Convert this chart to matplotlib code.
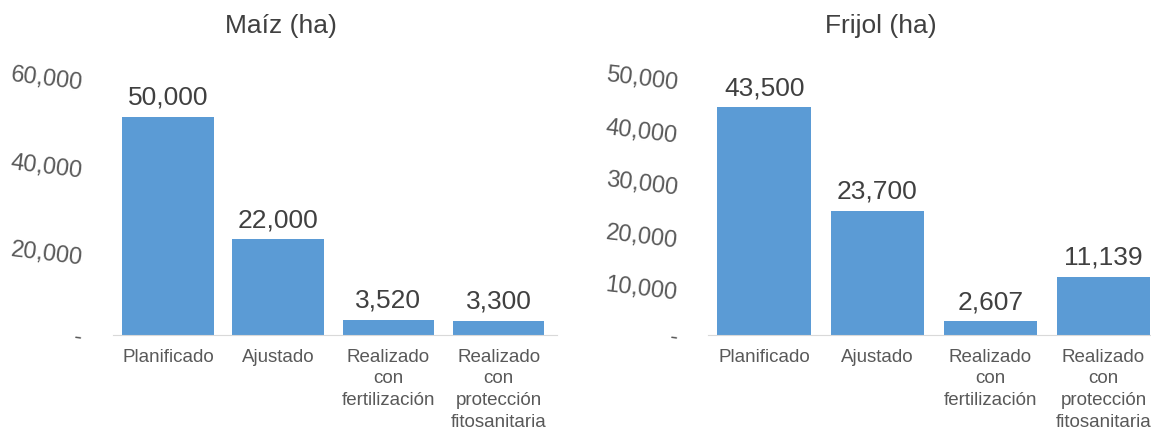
import matplotlib.pyplot as plt
from matplotlib.ticker import FuncFormatter

categories = ["Planificado", "Ajustado", "Realizado\ncon\nfertilización",
              "Realizado\ncon\nprotección\nfitosanitaria"]
maiz = [50000, 22000, 3520, 3300]
frijol = [43500, 23700, 2607, 11139]
maiz_ticks = [0, 20000, 40000, 60000]
frijol_ticks = [0, 10000, 20000, 30000, 40000, 50000]

plt.rcParams['font.family'] = ['Liberation Sans', 'DejaVu Sans']

BLUE = "#5B9BD5"
TXT = "#404040"
TICK = "#595959"


def fmt(v, pos):
    return "-" if v == 0 else f"{v:,.0f}"


fig = plt.figure(figsize=(11.51, 4.3), dpi=100)
ax1 = fig.add_axes([0.098, 0.221, 0.386, 0.609])
ax2 = fig.add_axes([0.615, 0.221, 0.385, 0.609])

panels = [(ax1, maiz, maiz_ticks, (-0.5, 3.53)), (ax2, frijol, frijol_ticks, (-0.5, 3.42))]
for ax, vals, ticks, xl in panels:
    x = range(len(categories))
    bars = ax.bar(x, vals, width=0.83, color=BLUE)
    for b, v in zip(bars, vals):
        ax.annotate(f"{v:,}", (b.get_x() + b.get_width() / 2, v),
                    xytext=(0, 5), textcoords="offset points",
                    ha="center", va="bottom", fontsize=19, color=TXT)
    ax.set_ylim(0, ticks[-1])
    ax.set_xlim(*xl)
    ax.set_yticks(ticks)
    ax.yaxis.set_major_formatter(FuncFormatter(fmt))
    ax.set_xticks(list(x))
    ax.set_xticklabels(categories, fontsize=13.5, color=TICK, linespacing=1.35)
    for lab in ax.get_yticklabels():
        lab.set_rotation(-7)
        lab.set_fontsize(17)
        lab.set_color(TICK)
    ax.tick_params(axis="y", length=0, pad=21)
    ax.tick_params(axis="x", length=0, pad=10)
    for s in ["top", "right", "left"]:
        ax.spines[s].set_visible(False)
    ax.spines["bottom"].set_color("#D9D9D9")

fig.text(0.244, 0.940, "Maíz (ha)", ha="center", va="center", fontsize=19, color=TXT)
fig.text(0.765, 0.940, "Frijol (ha)", ha="center", va="center", fontsize=19, color=TXT)

fig.savefig("out.png", dpi=100)
